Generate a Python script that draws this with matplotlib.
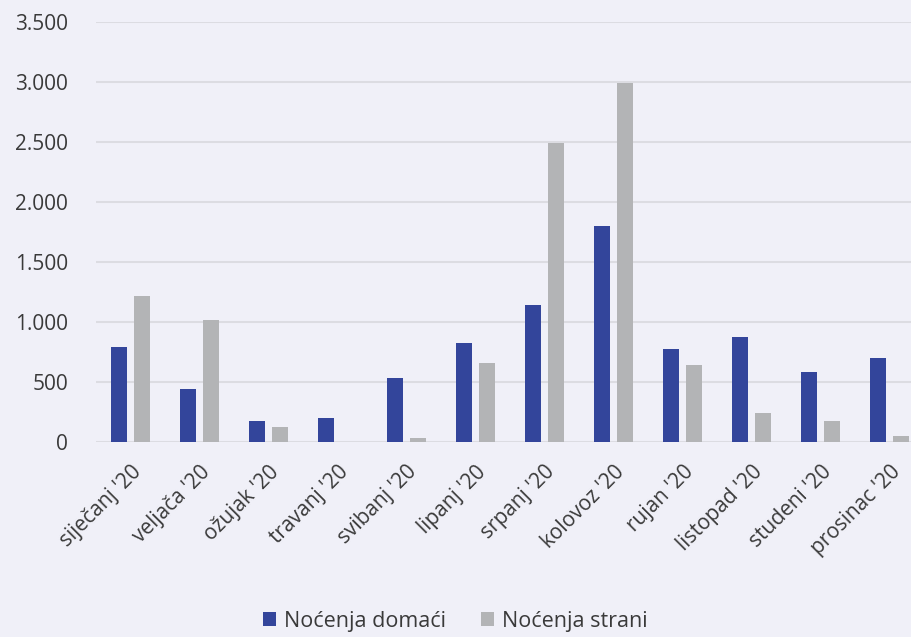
import numpy as np
import matplotlib
matplotlib.use('Agg')
import matplotlib.pyplot as plt

months = ["siječanj '20", "veljača '20", "ožujak '20", "travanj '20", "svibanj '20",
          "lipanj '20", "srpanj '20", "kolovoz '20", "rujan '20", "listopad '20",
          "studeni '20", "prosinac '20"]
domaci = [795, 438, 172, 197, 530, 829, 1145, 1801, 771, 871, 580, 704]
strani = [1219, 1020, 122, 0, 30, 662, 2492, 2990, 638, 239, 172, 48]
yticks = [0, 500, 1000, 1500, 2000, 2500, 3000, 3500]
ytick_labels = ['0', '500', '1.000', '1.500', '2.000', '2.500', '3.000', '3.500']

BG = '#F0F0F8'
BLUE = '#33459B'
GRAY = '#B3B4B6'
TXT = '#3a3a3a'

plt.rcParams['font.family'] = ['Open Sans', 'DejaVu Sans']

fig = plt.figure(figsize=(9.11, 6.37), dpi=100, facecolor=BG)
ax = fig.add_axes([96 / 911, 195 / 637, 828 / 911, 420 / 637])
ax.set_facecolor(BG)

x = np.arange(len(months))
w = 0.23
ax.bar(x - 0.166, domaci, w, color=BLUE, label='Noćenja domaći', zorder=3)
ax.bar(x + 0.166, strani, w, color=GRAY, label='Noćenja strani', zorder=3)

ax.set_xlim(-0.5, 11.5)
ax.set_ylim(0, 3500)
ax.set_yticks(yticks)
ax.set_yticklabels(ytick_labels)
ax.set_xticks(x)
ax.set_xticklabels(months, rotation=45, ha='right', va='top', rotation_mode='anchor')

ax.tick_params(axis='both', length=0, labelsize=15, colors=TXT)
ax.tick_params(axis='x', pad=14)
ax.tick_params(axis='y', pad=20)

ax.grid(axis='y', color='#DCDCE2', linewidth=1.5, zorder=0)
for s in ax.spines.values():
    s.set_visible(False)

fig.legend(loc='lower center', bbox_to_anchor=(0.5, -0.022), ncol=2, frameon=False,
           fontsize=15.5, handlelength=0.6, handleheight=0.6, handletextpad=0.4,
           columnspacing=1.6, labelcolor=TXT)

plt.savefig('out.png', dpi=100, facecolor=BG)
plt.close()
